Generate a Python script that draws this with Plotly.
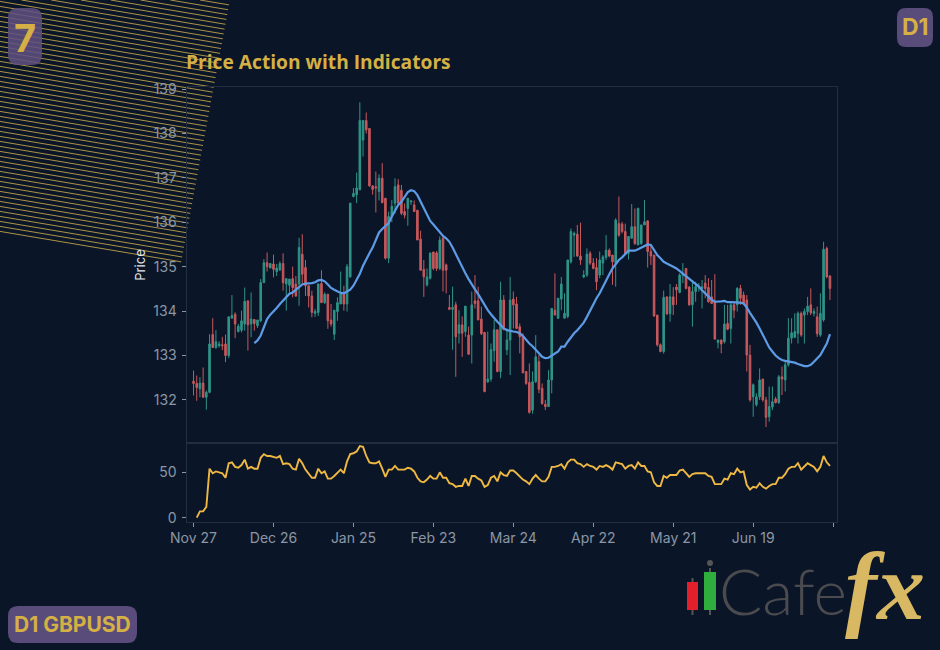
import plotly.graph_objects as go

# Daily GBPUSD session data, one entry per bar
open_px = [
132.42,132.37,132.25,132.38,132.06,132.17,133.47,133.18,133.22,133.24,
133.26,133.00,133.84,133.93,133.54,133.57,133.71,134.23,133.71,133.81,
133.67,133.78,134.64,135.09,134.97,135.06,134.89,134.92,135.07,134.61,
134.58,134.73,134.61,134.61,135.28,134.98,134.57,134.34,133.95,133.97,
134.62,134.19,134.38,133.80,133.48,133.99,134.16,134.38,134.16,134.77,
136.58,136.62,136.73,137.85,138.29,138.11,136.82,136.80,136.69,136.99,
136.54,135.19,136.13,136.43,136.84,136.72,136.24,136.31,136.46,136.39,
136.27,135.62,134.94,134.59,134.74,135.33,135.31,134.96,135.64,135.04,
134.08,134.04,134.14,133.50,133.69,133.54,133.46,133.46,134.23,134.23,
133.82,133.52,132.41,132.47,133.11,133.58,132.64,134.25,133.13,133.35,
134.27,134.16,133.65,133.44,132.64,132.39,131.77,132.41,132.86,132.26,
131.90,131.85,132.45,134.02,133.84,134.27,133.84,133.88,135.11,135.71,
135.73,135.24,134.77,134.81,135.30,135.08,134.98,134.81,135.08,135.21,
135.37,135.26,135.08,135.97,135.96,135.79,135.30,135.64,135.90,135.49,
135.52,135.94,136.03,135.34,135.26,133.91,133.24,133.09,134.32,133.94,
134.32,134.54,134.42,134.80,134.96,134.54,134.14,134.44,134.54,134.51,
134.63,134.53,134.32,134.21,133.29,133.35,133.31,133.72,133.61,134.14,
134.14,134.51,134.36,134.25,133.01,132.07,131.89,132.07,132.47,132.00,
131.62,131.84,132.02,131.94,132.52,132.45,132.79,133.39,133.41,133.50,
133.95,133.91,133.99,134.14,133.95,133.87,133.46,133.80,135.41,134.79,
]
high_px = [
132.66,132.55,132.51,132.73,132.21,133.48,133.84,133.57,133.32,133.42,
133.47,133.87,134.36,133.97,133.71,134.01,134.53,134.23,134.42,133.81,
133.80,134.72,135.17,135.32,135.07,135.27,135.06,135.12,135.30,134.74,
134.72,135.00,134.79,135.65,135.73,135.15,134.57,134.46,134.05,134.62,
134.92,134.42,134.38,134.16,134.02,134.31,134.89,134.57,135.06,136.43,
136.77,137.12,138.70,138.29,138.47,138.11,136.82,137.14,137.08,137.33,
136.54,136.24,136.50,136.99,136.97,136.84,136.42,136.54,136.49,136.49,
136.27,135.81,135.15,134.96,135.31,135.33,135.35,135.68,135.68,135.07,
134.36,134.55,134.21,134.02,133.88,134.11,133.65,134.44,134.81,134.55,
134.10,133.52,133.54,133.27,133.80,133.58,134.66,134.36,133.61,134.77,
134.44,134.32,133.72,133.50,132.64,132.82,132.64,133.46,133.01,132.37,
132.00,132.67,134.06,134.85,134.29,134.77,134.40,135.15,135.86,135.79,
135.94,135.99,134.92,135.41,135.35,135.19,135.19,135.34,135.26,135.71,
135.41,135.26,136.09,136.58,136.01,135.97,135.68,136.41,136.31,136.33,
135.94,136.50,136.05,135.49,135.26,133.91,133.27,134.46,134.32,134.61,
134.54,134.61,134.85,135.08,134.96,134.56,134.70,134.66,134.63,134.70,
134.81,134.74,134.70,134.83,133.35,133.35,134.14,134.14,134.21,134.21,
134.54,134.59,134.44,134.36,133.24,132.37,132.15,132.71,132.47,132.07,
132.30,132.30,132.07,132.56,132.75,132.86,133.84,133.84,133.95,133.99,
133.99,134.06,134.32,134.51,134.06,134.10,134.40,135.56,135.45,134.81,
]
low_px = [
132.10,131.98,132.06,132.05,131.78,132.15,133.18,133.15,133.18,133.12,
132.85,132.94,133.84,133.39,133.52,133.52,133.56,133.11,133.41,133.56,
133.62,133.75,134.64,134.89,134.97,134.76,134.79,134.92,134.46,134.01,
134.42,134.31,134.32,134.12,134.61,134.34,134.08,133.86,133.87,133.89,
134.19,134.16,133.60,133.65,133.35,133.78,134.16,134.01,133.99,134.75,
136.56,136.43,136.73,137.48,138.00,136.80,136.62,136.22,136.49,136.43,
135.16,135.08,136.00,136.20,136.39,136.16,136.09,135.92,136.39,136.24,
135.60,134.91,134.32,134.55,134.71,134.92,134.90,134.92,134.44,134.40,
134.02,133.13,132.52,133.27,132.97,133.42,133.01,132.82,134.06,133.80,
133.46,132.17,132.38,132.41,132.86,132.62,132.49,133.58,133.01,132.56,
133.61,133.61,133.05,132.60,132.34,131.69,131.69,132.38,132.15,131.89,
131.77,131.85,132.15,133.91,133.82,134.02,133.84,133.84,135.07,135.22,
135.22,135.04,134.74,134.77,135.04,134.94,134.47,134.74,134.81,135.15,
135.21,134.59,134.55,135.67,135.75,135.26,135.16,135.64,135.49,135.49,
135.49,135.94,134.98,135.04,133.87,133.20,133.07,133.04,133.91,133.76,
133.91,134.14,134.40,134.63,134.49,134.12,133.65,134.21,134.44,134.06,
134.29,134.19,134.17,133.35,133.16,133.05,133.27,133.57,133.27,133.84,
133.99,134.14,134.14,132.64,131.96,131.62,131.85,132.00,131.96,131.39,
131.51,131.77,131.92,131.91,132.11,132.19,132.75,133.27,133.39,133.27,
133.42,133.27,133.91,133.91,133.88,133.42,133.42,133.76,134.74,134.25,
]
close_px = [
132.37,132.28,132.38,132.06,132.17,133.26,133.18,133.31,133.26,133.22,
133.00,133.87,133.90,133.71,133.66,133.78,134.22,133.69,133.82,133.72,
133.80,134.64,135.09,135.00,135.07,134.94,134.97,135.07,134.64,134.73,
134.72,134.53,134.34,135.43,134.83,134.57,134.34,133.97,133.99,134.61,
134.19,134.38,133.78,133.71,134.02,134.19,134.38,134.16,135.00,136.43,
136.65,136.77,138.29,138.29,138.08,136.82,136.74,136.77,136.99,136.44,
135.19,136.13,136.36,136.80,136.43,136.20,136.16,136.54,136.48,136.24,
135.60,134.92,134.77,134.77,135.31,134.96,134.96,135.60,134.92,134.92,
134.04,134.08,133.42,133.69,133.50,134.11,133.03,134.14,134.17,133.80,
133.49,132.19,132.47,133.13,133.58,132.64,134.25,133.58,133.35,134.25,
134.14,133.61,133.42,132.61,132.37,131.72,132.41,132.97,132.24,131.92,
131.85,132.45,134.06,133.91,134.29,134.61,133.95,135.15,135.79,135.75,
135.24,135.15,134.81,135.28,135.08,134.96,134.66,135.15,135.22,135.37,
135.24,135.11,136.05,135.71,135.79,135.28,135.68,135.90,135.52,136.31,
135.94,136.01,135.34,135.24,133.89,133.24,133.09,134.31,133.94,134.32,
134.14,134.48,134.81,134.83,134.51,134.14,134.44,134.55,134.55,134.55,
134.51,134.21,134.17,133.37,133.35,133.26,133.71,133.59,134.14,134.02,
134.51,134.29,134.17,133.01,132.00,132.34,132.07,132.45,132.00,131.61,
131.85,131.96,131.94,132.52,132.47,132.79,133.39,133.51,133.54,133.95,
133.46,133.99,134.11,133.96,133.99,133.49,133.95,135.39,134.77,134.51,
]
# 20-bar moving average of the close, undefined for the first 19 bars
ma_values = [None]*19 + [
133.28,133.34,133.45,133.65,133.82,133.92,133.99,134.07,134.16,134.24,134.33,
134.39,134.42,134.48,134.56,134.60,134.62,134.62,134.63,134.65,134.69,
134.70,134.67,134.60,134.52,134.48,134.44,134.41,134.40,134.45,134.48,
134.57,134.69,134.84,135.02,135.18,135.30,135.43,135.60,135.77,135.85,
135.91,135.98,136.13,136.27,136.39,136.46,136.56,136.68,136.72,136.70,
136.61,136.46,136.31,136.16,136.03,135.95,135.86,135.76,135.69,135.64,
135.56,135.43,135.28,135.13,134.98,134.85,134.72,134.59,134.49,134.38,
134.25,134.14,134.02,133.93,133.84,133.76,133.69,133.61,133.57,133.55,
133.54,133.53,133.50,133.44,133.35,133.27,133.21,133.12,133.05,132.97,
132.94,132.95,133.00,133.03,133.09,133.20,133.20,133.31,133.41,133.50,
133.57,133.65,133.74,133.87,134.02,134.17,134.29,134.40,134.55,134.70,
134.83,134.96,135.06,135.15,135.21,135.28,135.36,135.36,135.36,135.39,
135.43,135.47,135.50,135.49,135.36,135.26,135.19,135.11,135.07,135.04,
135.00,134.96,134.90,134.85,134.80,134.74,134.68,134.61,134.55,134.47,
134.40,134.32,134.26,134.21,134.21,134.22,134.23,134.20,134.20,134.20,
134.20,134.19,134.17,134.08,133.96,133.86,133.74,133.61,133.46,133.31,
133.18,133.09,133.00,132.94,132.90,132.88,132.87,132.85,132.84,132.81,
132.79,132.76,132.76,132.79,132.86,132.94,133.01,133.14,133.27,133.48,
]
rsi_values = [None,
0,7,7,12,54,49,51,50,49,44,60,61,56,55,58,64,54,56,54,
54,66,70,68,68,67,66,68,59,60,59,54,53,65,60,53,49,44,44,54,
49,51,43,43,46,49,53,49,62,70,71,73,79,78,68,61,60,60,62,54,
45,53,53,57,53,53,53,55,54,51,44,40,39,42,46,43,43,50,44,44,
38,37,34,35,35,43,35,46,46,43,41,34,36,44,46,40,50,47,46,52,
52,49,45,42,40,37,43,47,43,40,40,45,56,56,57,59,54,61,64,64,
60,59,56,59,57,56,53,57,56,58,56,53,61,60,59,54,57,58,54,61,
57,57,51,50,39,35,35,46,44,47,47,47,52,53,49,45,48,49,49,49,
49,46,45,37,37,37,43,42,49,48,54,50,51,36,31,34,33,38,34,32,
35,37,37,44,44,48,54,56,56,60,53,57,60,58,56,51,56,68,61,57,
]
bar_index = list(range(len(close_px)))
tick_positions = [0, 25, 50, 75, 100, 125, 150, 175, 200]
tick_labels = ["Nov 27", "Dec 26", "Jan 25", "Feb 23", "Mar 24", "Apr 22", "May 21", "Jun 19", ""]

W, H = 940, 650
BG = "#0a1627"
GOLD = "#d5b045"
BADGE = "#5a4c7a"
FRAME = "#222e40"
TICK = "#8c96a6"
TEAL = "#2f9488"
RED = "#c8585c"


def px(x):
    return x / W


def py(y):
    return 1 - y / H


def rounded_rect(x0, y0, x1, y1, r):
    return (
        f"M {px(x0 + r)} {py(y0)} L {px(x1 - r)} {py(y0)} Q {px(x1)} {py(y0)} {px(x1)} {py(y0 + r)} "
        f"L {px(x1)} {py(y1 - r)} Q {px(x1)} {py(y1)} {px(x1 - r)} {py(y1)} "
        f"L {px(x0 + r)} {py(y1)} Q {px(x0)} {py(y1)} {px(x0)} {py(y1 - r)} "
        f"L {px(x0)} {py(y0 + r)} Q {px(x0)} {py(y0)} {px(x0 + r)} {py(y0)} Z"
    )


def hatch_path():
    # Tilted band of thin parallel rules in the top-left corner
    slope = 0.168
    edge = 0.186
    parts = []
    y0 = -38.6
    while y0 <= 232:
        x_start = max(0.0, -y0 / slope)
        y_start = y0 + slope * x_start
        x_end = (230 - edge * y0) / (1 + edge * slope)
        y_end = y0 + slope * x_end
        parts.append(f"M {px(x_start)} {py(y_start)} L {px(x_end)} {py(y_end)}")
        y0 += 5.0
    return " ".join(parts)


fig = go.Figure()
fig.add_trace(go.Candlestick(
    x=bar_index, open=open_px, high=high_px, low=low_px, close=close_px,
    increasing=dict(line=dict(color=TEAL, width=1), fillcolor=TEAL),
    decreasing=dict(line=dict(color=RED, width=1), fillcolor=RED),
    whiskerwidth=0, xaxis="x", yaxis="y", showlegend=False,
))
fig.add_trace(go.Scatter(
    x=bar_index, y=ma_values, mode="lines",
    line=dict(color="#5e9be6", width=2.2), xaxis="x", yaxis="y", showlegend=False,
))
fig.add_trace(go.Scatter(
    x=bar_index, y=rsi_values, mode="lines",
    line=dict(color="#eeb843", width=1.9), xaxis="x2", yaxis="y2", showlegend=False,
))

shapes = [
    dict(type="path", xref="paper", yref="paper", path=hatch_path(), layer="below",
         line=dict(color="#c9a94e", width=1), opacity=0.85),
    dict(type="path", xref="paper", yref="paper", path=rounded_rect(8, 8, 42, 65, 10),
         fillcolor="rgba(96,80,130,0.85)", line=dict(width=0), layer="below"),
    dict(type="path", xref="paper", yref="paper", path=rounded_rect(897, 8, 933, 47, 9),
         fillcolor=BADGE, line=dict(width=0), layer="below"),
    dict(type="path", xref="paper", yref="paper", path=rounded_rect(8, 606, 137, 643, 10),
         fillcolor=BADGE, line=dict(width=0), layer="below"),
    # Logo candles
    dict(type="line", xref="paper", yref="paper", x0=px(692.5), x1=px(692.5), y0=py(578), y1=py(615),
         line=dict(color="#555", width=2)),
    dict(type="rect", xref="paper", yref="paper", x0=px(687), x1=px(698), y0=py(582), y1=py(610),
         fillcolor="#e2202b", line=dict(width=0)),
    dict(type="line", xref="paper", yref="paper", x0=px(710), x1=px(710), y0=py(568), y1=py(615),
         line=dict(color="#555", width=2)),
    dict(type="rect", xref="paper", yref="paper", x0=px(704), x1=px(716), y0=py(572), y1=py(610),
         fillcolor="#2fae3e", line=dict(width=0)),
    dict(type="circle", xref="paper", yref="paper", x0=px(707), x1=px(713), y0=py(560), y1=py(566),
         fillcolor="#555", line=dict(width=0)),
]

annotations = [
    dict(text="<b>7</b>", x=px(25), y=py(38), font=dict(family="Inter", size=38, color=GOLD)),
    dict(text="<b>D1</b>", x=px(915), y=py(27), font=dict(family="Inter", size=23, color=GOLD)),
    dict(text="<b>D1 GBPUSD</b>", x=px(72), y=py(624), font=dict(family="Inter", size=21, color=GOLD)),
    dict(text="Cafe", x=px(717), y=py(590), xanchor="left",
         font=dict(family="Lato", size=64, color="#4b4b4f", weight=300)),
    dict(text="<b><i>fx</i></b>", x=px(843), y=py(586), xanchor="left",
         font=dict(family="Liberation Serif", size=96, color="#d8b862")),
]
for a in annotations:
    a.update(xref="paper", yref="paper", showarrow=False)
    a.setdefault("xanchor", "center")
    a.setdefault("yanchor", "middle")

axis_common = dict(showgrid=False, zeroline=False, showline=True, mirror=True, automargin=False,
                   linecolor=FRAME, linewidth=1, ticks="outside", ticklen=4,
                   tickcolor=TICK, tickfont=dict(family="Inter", size=14, color=TICK))

fig.update_layout(
    width=W, height=H, autosize=False,
    margin=dict(l=0, r=0, t=0, b=0),
    paper_bgcolor=BG, plot_bgcolor="rgba(0,0,0,0)",
    showlegend=False,
    title=dict(text="<b>Price Action with Indicators</b>", x=px(186), xanchor="left",
               y=py(62.5), yanchor="middle", xref="paper", yref="paper",
               font=dict(family="Open Sans", size=19.2, color=GOLD)),
    xaxis=dict(domain=[px(186.5), px(837)], range=[-2.2, 201.2], anchor="y", automargin=False,
               rangeslider=dict(visible=False), tickvals=[], showgrid=False, zeroline=False,
               showline=True, mirror=True, linecolor=FRAME, linewidth=1),
    yaxis=dict(domain=[py(443), py(87)], range=[131.03, 139.045], anchor="x",
               tickvals=[132, 133, 134, 135, 136, 137, 138, 139], ticklabelstandoff=2,
               title=dict(text="Price", standoff=4, font=dict(family="Inter", size=13, color="#e4e6ea")),
               **axis_common),
    xaxis2=dict(domain=[px(186.5), px(837)], range=[-2.2, 201.2], anchor="y2",
                tickvals=tick_positions, ticktext=tick_labels, **axis_common),
    yaxis2=dict(domain=[py(521.5), py(443)], range=[-4.2, 82.3], anchor="x2",
                tickvals=[0, 50], ticklabelstandoff=2, **axis_common),
    shapes=shapes, annotations=annotations,
)

fig.write_html("out.html")
